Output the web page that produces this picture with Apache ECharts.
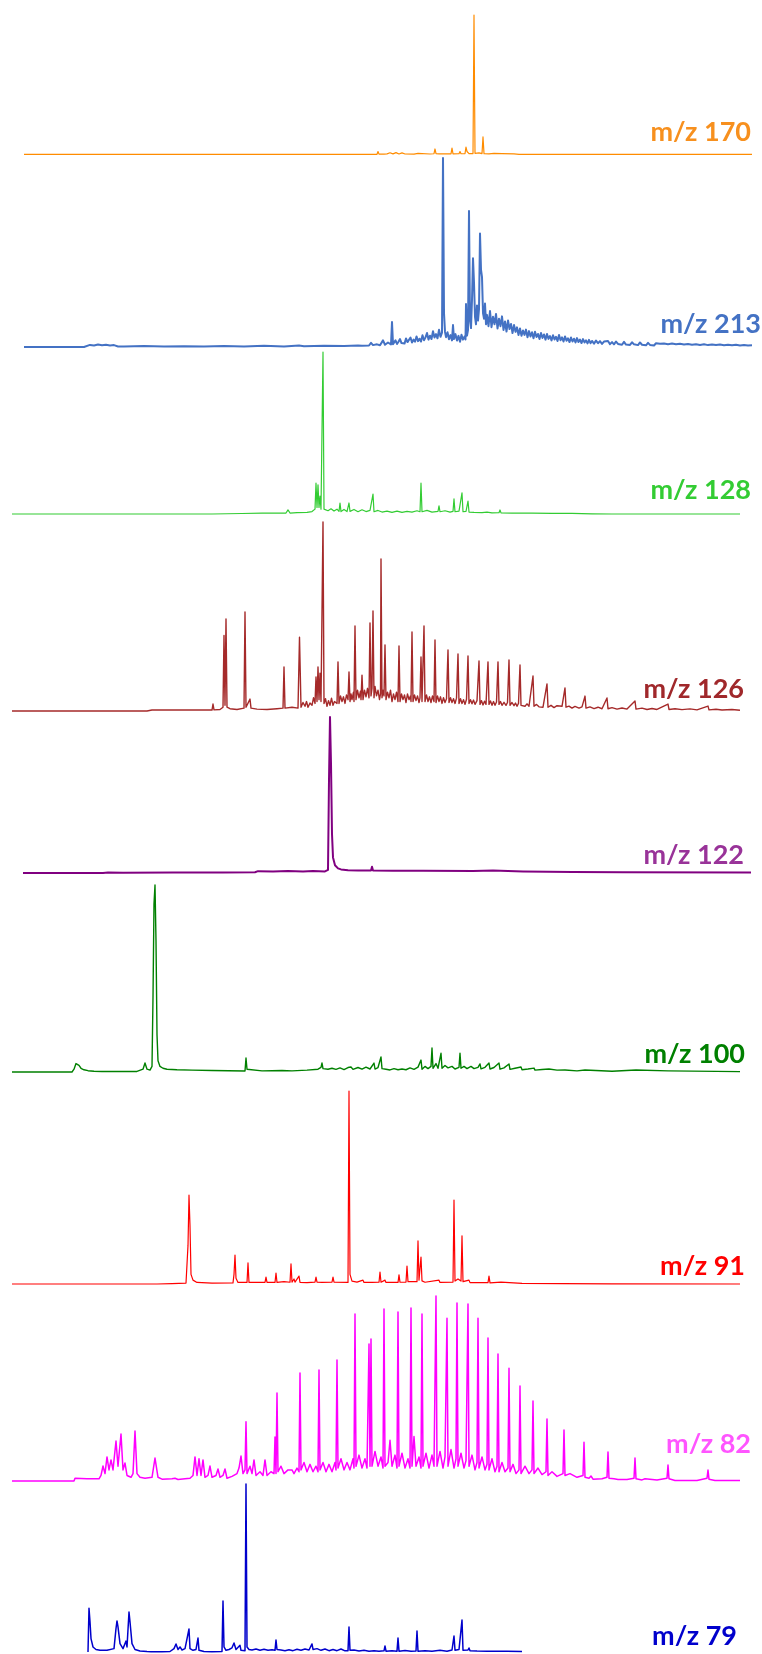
<!DOCTYPE html>
<html>
<head>
<meta charset="utf-8">
<script src="https://cdn.jsdelivr.net/npm/echarts@6/dist/echarts.min.js"></script>
<style>
  html, body { margin: 0; padding: 0; background: #ffffff; }
  #chart { width: 762px; height: 1654px; }
</style>
</head>
<body>
<div id="chart"></div>
<script>
// Retention time axis (min) and relative intensity (%) for each extracted ion chromatogram
const timeMax = 72.8;

const labels = ['m/z 170', 'm/z 213', 'm/z 128', 'm/z 126', 'm/z 122', 'm/z 100', 'm/z 91', 'm/z 82', 'm/z 79'];

const mz170 = [[0,0.4],[31.0,0.4],[31.1,0.4],[31.2,1.2],[31.3,0.4],[35.0,0.5],[35.3,0.5],[35.4,2.5],[35.5,0.6],[36.0,0.6],[36.1,1.8],[36.3,0.8],[36.6,1.6],[36.9,0.8],[37.2,1.7],[37.5,0.7],[37.8,1.5],[38.1,0.7],[39.0,0.6],[39.4,1.2],[39.6,0.6],[40.6,0.7],[40.7,2.1],[40.8,0.8],[41.0,0.9],[41.1,4.3],[41.2,0.9],[41.4,1.8],[41.5,0.8],[42.7,0.8],[42.8,5],[42.9,0.8],[43.5,0.9],[43.6,2.5],[43.7,0.9],[44.1,1.0],[44.2,5.7],[44.3,2.5],[44.4,3.6],[44.5,1.0],[44.9,1.0],[45.0,100],[45.1,1.2],[45.5,1.5],[45.7,1.0],[45.8,1.0],[45.9,12.9],[46.0,1.0],[46.5,0.8],[47.0,1.2],[47.2,0.6],[47.8,1.0],[48.0,0.6],[49.0,0.8],[49.5,0.5],[50,0.4],[72.8,0.4]];

const mz213 = [[0,0],[6,0],[6.2,0.6],[6.6,1.1],[7.0,0.8],[7.4,1.3],[7.8,0.9],[8.2,1.2],[8.6,0.8],[9.0,1.0],[9.4,0.3],[10,0.2],[12,0.5],[14,0.2],[16,0.4],[18,0.2],[20,0.5],[22,0.3],[24,0.6],[26,0.3],[27.5,0.8],[28,0.4],[30,0.6],[32,0.5],[33.4,0.8],[33.8,0.6],[34.5,0.8],[34.7,2.2],[34.9,1.0],[35.3,1.4],[35.6,0.9],[35.9,3.5],[36.1,1.2],[36.4,2.4],[36.7,1.3],[36.8,13.2],[36.9,1.5],
[37.0,2.0],[37.15,3.5],[37.3,1.6],[37.45,2.8],[37.6,4.2],[37.75,2.1],[37.9,3.0],[38.05,1.8],[38.2,4.5],[38.35,2.6],[38.5,3.3],[38.65,5.0],[38.8,2.4],[38.95,3.9],[39.1,2.8],[39.25,5.6],[39.4,3.1],[39.55,4.4],[39.7,2.9],[39.85,6.2],[40.0,3.6],[40.15,5.1],[40.3,7.4],[40.45,3.9],[40.6,6.0],[40.75,4.2],[40.9,8.3],[41.05,5.0],[41.2,6.8],[41.35,4.6],[41.5,9.1],[41.65,5.4],[41.8,7.6],
[41.9,100],[42.0,18],[42.1,8],[42.2,5.2],[42.35,7.8],[42.5,4.1],[42.65,6.3],[42.8,3.5],[42.9,11.6],[43.0,4.2],[43.15,6.8],[43.3,3.4],[43.45,5.9],[43.6,2.8],[43.75,6.5],[43.9,3.9],[44.05,5.5],[44.15,4.0],[44.2,22.8],[44.3,6],[44.4,9],[44.5,72],[44.6,14],[44.7,10],[44.8,25],[44.9,47],[45.0,34],[45.1,16],[45.2,12],[45.3,22],[45.4,14],[45.5,20],[45.6,60],[45.7,41],[45.8,37],[45.9,18],[46.0,15],[46.1,23],[46.2,12],[46.3,17],[46.45,11],[46.6,19],[46.75,10.5],[46.9,16],[47.05,12],[47.2,17.5],[47.35,9.8],[47.5,15],[47.65,11],[47.8,16.2],[47.95,9],[48.1,13.5],[48.25,8.2],[48.4,14],[48.55,9.5],[48.7,12.2],[48.85,7.4],[49.0,11.6],[49.15,8.0],[49.3,10.4],[49.45,6.3],[49.6,9.8],[49.75,5.9],[49.9,8.7],[50.05,6.4],[50.2,9.2],[50.35,5.1],[50.5,8.4],[50.65,5.6],[50.8,7.8],[50.95,4.6],[51.1,8.1],[51.25,5.3],[51.4,6.9],[51.55,4.2],[51.7,7.4],[51.85,4.8],[52.0,6.6],[52.15,3.9],[52.3,6.9],[52.45,4.3],[52.6,5.8],[52.75,3.5],[52.9,6.2],[53.05,4.0],[53.2,5.4],[53.35,3.2],[53.5,6.4],[53.65,3.6],[53.8,5.1],[53.95,2.9],[54.1,5.6],[54.25,3.3],[54.4,4.6],[54.55,2.6],[54.7,5.0],[54.85,2.9],[55.0,4.4],[55.15,2.4],[55.3,4.7],[55.45,2.6],[55.6,3.9],[55.75,2.1],[55.9,4.2],[56.05,2.4],[56.2,3.5],[56.35,1.9],[56.5,3.8],[56.65,2.0],[56.8,3.2],
[57.0,1.8],[57.2,3.4],[57.4,2.0],[57.6,3.1],[57.8,1.6],[58.0,2.9],[58.2,1.9],[58.4,3.2],[58.6,1.5],[58.8,2.6],[59.0,1.4],[59.2,2.9],[59.4,1.6],[59.6,2.4],[59.8,1.2],[60.0,2.7],[60.2,1.3],[60.4,2.2],[60.6,1.1],[60.8,2.5],[61.0,1.4],[61.2,2.0],[61.4,1.0],[61.6,2.4],[61.8,1.2],[62.0,1.9],[62.2,0.9],[62.4,2.2],[62.6,1.1],[62.8,1.8],[63.0,0.8],[63.2,2.0],[63.4,1.0],[63.6,1.7],[63.8,0.8],[64.0,1.9],[64.2,0.9],[64.4,1.5],[64.6,0.7],[64.8,1.8],[65.0,0.9],[65.2,1.4],[65.4,0.6],[65.6,1.7],[65.8,0.8],[66.0,1.3],[66.2,0.6],[66.4,1.6],[66.6,0.7],[66.8,1.2],[67.0,0.5],[67.2,1.5],[67.4,0.7],[67.6,1.1],[67.8,0.5],[68.0,1.4],[68.2,0.6],[68.4,1.0],[68.6,0.4],[68.8,1.3],[69.0,0.6],[69.2,1.0],[69.4,0.4],[69.6,1.3],[69.8,0.5],[70.0,0.9],[70.2,0.4],[70.4,1.2],[70.6,0.5],[70.8,0.9],[71.0,0.3],[71.2,1.2],[71.4,0.5],[71.6,0.8],[71.8,0.3],[72.0,1.1],[72.2,0.4],[72.4,0.8],[72.6,0.3],[72.8,0.9]];

const mz128 = [[0,0],[20,0],[23,0.3],[25,0.5],[27.4,0.6],[27.6,2.5],[27.8,0.6],[28.5,0.8],[29.5,1.0],[30.0,1.5],[30.3,3],[30.4,19],[30.5,4],[30.6,18],[30.7,4],[30.8,11],[30.9,3],[31.0,2.5],[31.1,100],[31.2,3],[31.4,4],[31.6,2],[31.9,3.2],[32.2,1.8],[32.5,3],[32.7,1.6],[32.8,6.8],[32.9,1.5],[33.2,2.8],[33.5,1.5],[33.7,6.8],[33.8,1.6],[34.2,2.8],[34.6,1.4],[35.0,2.6],[35.4,1.5],[35.8,2.2],[36.0,1.4],[36.1,12.3],[36.2,1.4],[36.6,2.2],[37,1.2],[37.5,1.8],[38,1.0],[38.5,1.8],[39,1.0],[39.5,1.6],[40,1.2],[40.5,2.0],[40.8,1.4],[40.9,19],[41.0,1.4],[41.5,2.2],[42,1.2],[42.6,1.6],[42.7,5],[42.8,1.4],[43.3,2],[43.8,1.2],[44.1,1.6],[44.2,9.3],[44.3,1.4],[44.7,1.8],[44.9,1.4],[45.0,13],[45.1,1.4],[45.4,1.6],[45.6,8],[45.7,1.2],[46.2,1.0],[47,0.8],[47.5,1.2],[48,0.7],[48.7,0.8],[48.8,2.5],[48.9,0.7],[50,0.5],[52,0.6],[54,0.4],[56,0.4],[58,0.1],[60,0],[72.8,0]];

const mz126 = [[0,0],[13.5,0],[14,0.5],[20,0.5],[20.1,3.7],[20.2,0.6],[20.8,0.8],[21.1,2],[21.2,40],[21.3,3],[21.4,48.7],[21.5,2],[21.8,1.2],[22.5,0.8],[23.2,1.5],[23.3,52.4],[23.4,2],[23.6,3],[23.8,6.3],[23.9,1.5],[24.5,1.0],[25.5,0.8],[26.5,1.2],[27.1,1.5],[27.2,23.3],[27.3,1.5],[28.0,2.0],[28.6,1.5],[28.75,39],[28.9,2],[29.1,4.5],[29.3,2.5],[29.45,5],[29.6,2],[29.8,4.2],[30.0,3],[30.15,7],[30.3,4],[30.4,18],[30.5,5],[30.6,23.3],[30.7,6],[30.8,20],[30.9,5],[31.0,4],[31.1,100],[31.2,4],[31.35,6.5],[31.5,2.5],[31.65,5.5],[31.8,3],[31.95,6.8],[32.1,3],[32.25,5],[32.4,6],[32.5,4],[32.6,26],[32.7,4],[32.85,8],[33.0,5],[33.15,7.5],[33.3,4],[33.45,8.5],[33.6,6],[33.7,20.6],[33.8,5],[33.9,9],[34.0,6],[34.15,10],[34.2,5],[34.3,45],[34.4,6],[34.55,11],[34.7,7],[34.85,10.5],[34.9,6],[35.0,19],[35.1,6],[35.25,11],[35.4,7.5],[35.55,12],[35.7,7],[35.8,46.6],[35.9,8],[36.0,12],[36.1,52.9],[36.2,7],[36.3,13],[36.45,8],[36.6,11],[36.75,6],[36.85,9],[36.9,80.4],[37.0,7],[37.1,11],[37.2,8],[37.3,35],[37.4,6],[37.55,10],[37.7,7],[37.85,11],[38.0,5],[38.15,9],[38.3,6],[38.45,10],[38.6,5],[38.7,34.4],[38.8,5],[38.95,9],[39.1,6],[39.25,8.5],[39.4,4.5],[39.55,9],[39.7,6],[39.85,8],[39.9,5],[40.0,41.8],[40.1,5],[40.25,8.5],[40.4,5.5],[40.55,8],[40.7,4.5],[40.8,7],[40.9,28.6],[41.0,5],[41.1,6],[41.2,45],[41.3,5],[41.45,8.5],[41.6,5],[41.75,7.5],[41.9,4.5],[42.05,8],[42.2,5],[42.3,37.6],[42.4,4.5],[42.55,8],[42.7,5],[42.85,7.5],[43.0,4],[43.15,7],[43.3,4.5],[43.45,6.5],[43.6,32.3],[43.7,4.5],[43.85,7],[44.0,4.5],[44.15,6.5],[44.3,4],[44.45,6.8],[44.6,30.2],[44.7,4],[44.85,6.5],[45.0,4],[45.15,6],[45.3,3.5],[45.45,6.2],[45.6,29.1],[45.7,4],[45.85,6],[46.0,3.8],[46.15,5.8],[46.3,3.5],[46.5,5.5],[46.7,26.5],[46.8,3.5],[46.95,5.5],[47.1,3.2],[47.25,5.2],[47.4,3.5],[47.6,26],[47.7,3.5],[47.85,5.3],[48.0,3],[48.15,5],[48.3,3],[48.45,4.8],[48.6,26],[48.7,3.5],[48.85,5],[49.0,3],[49.2,4.6],[49.4,3],[49.55,4.5],[49.7,27],[49.8,3],[50.0,4.5],[50.2,2.8],[50.35,4.2],[50.5,2.5],[50.65,4],[50.8,24.3],[50.9,3],[51.1,4],[51.3,2.5],[51.5,3.8],[51.7,2.5],[51.9,3.4],[52.1,18.5],[52.2,2.5],[52.45,3.5],[52.7,2.2],[52.9,3.2],[53.1,2],[53.3,3],[53.5,14.3],[53.6,2],[53.9,3],[54.2,1.8],[54.5,2.8],[54.7,1.8],[55.0,2.5],[55.3,12.2],[55.4,2],[55.7,2.6],[56,1.5],[56.3,2.4],[56.7,1.5],[57.0,2.2],[57.3,7.9],[57.4,1.5],[57.8,2.2],[58.2,1.3],[58.6,2],[59.0,1.2],[59.5,6.9],[59.6,1.2],[60.0,1.8],[60.5,1.0],[61.0,1.6],[61.5,1.0],[62.3,5.3],[62.4,1.0],[63.0,1.5],[63.5,0.8],[64.0,1.3],[64.5,0.8],[65.6,3.7],[65.7,0.8],[66.3,1.2],[67,0.7],[67.8,1.1],[68.5,0.6],[69.6,2.6],[69.7,0.6],[70.4,0.9],[71,0.5],[72.0,0.8],[72.8,0.4]];

const mz122 = [[0,0],[8,0],[8.2,0.8],[8.5,0.3],[10,0.2],[15,0.4],[20,0.3],[23.2,0.5],[23.5,1.2],[25,1.0],[26.5,1.3],[28,1.0],[29,1.3],[30.2,1.0],[30.4,1.5],[30.5,2],[30.6,60],[30.7,100],[30.8,70],[30.9,25],[31.0,10],[31.2,5],[31.5,3],[31.8,2.3],[32.5,1.8],[33.5,1.6],[34.8,1.6],[34.9,4],[35.0,1.6],[37,1.4],[40,1.4],[45,1.3],[47,1.6],[50,1.0],[55,0.6],[60,0.5],[72.8,0.4]];

const mz100 = [[0,0],[6.0,0],[6.2,1.5],[6.4,4.5],[6.5,5.3],[6.7,3.5],[6.9,2],[7.2,1.2],[7.6,0.7],[8.2,0.4],[9,0.3],[10.7,0.3],[10.8,0.8],[10.9,0.3],[12.5,0.3],[13.1,1.5],[13.3,4.8],[13.5,1.5],[13.8,1.0],[14.0,3],[14.1,40],[14.2,90],[14.3,100],[14.4,70],[14.5,20],[14.6,6],[14.8,3],[15.1,2],[15.5,1.5],[16.5,1.2],[18,1.0],[20,0.8],[23.3,0.5],[23.4,7.5],[23.5,1.5],[23.7,0.8],[25,0.6],[27,0.8],[28,0.6],[29.5,1.0],[30.6,1.5],[30.9,2.5],[31.0,4.8],[31.1,1.8],[31.6,1.5],[32.0,2.0],[32.4,1.4],[32.8,2.2],[33.2,1.3],[33.6,2.4],[33.9,2.7],[34.1,1.4],[34.6,2.4],[35.0,1.5],[35.4,2.6],[35.8,1.6],[36.2,4.8],[36.3,1.6],[36.6,2.4],[36.9,8],[37.0,1.8],[37.4,1.5],[37.8,1.1],[38.2,1.8],[38.6,1.2],[39.0,1.6],[39.4,1.2],[39.8,2.2],[40.2,1.4],[40.6,2.6],[40.9,6.4],[41.0,1.5],[41.3,3.0],[41.6,1.8],[41.9,3],[42.0,12.8],[42.1,2],[42.4,4.5],[42.6,2],[42.9,10],[43.0,2],[43.3,3.5],[43.6,2.2],[44.0,3],[44.3,1.6],[44.7,2.5],[44.8,10],[44.9,2],[45.2,3],[45.5,1.8],[45.9,3],[46.2,1.8],[46.6,2.5],[46.8,4.3],[46.9,1.7],[47.3,2.5],[47.7,4.8],[47.8,1.6],[48.2,2.4],[48.7,4.8],[48.8,1.5],[49.2,2.2],[49.7,4.3],[49.8,1.4],[50.3,2],[50.9,2.7],[51.0,1.2],[51.6,1.6],[52.2,2.1],[52.3,1.0],[53.0,1.3],[53.7,1.6],[53.8,0.8],[54.5,1.0],[55.3,1.1],[55.4,0.6],[56.5,0.6],[57.3,1.1],[57.4,0.5],[60,0.4],[62.4,1.1],[62.5,0.3],[65.6,0.6],[65.7,0.2],[72.8,0.2]];

const mz91 = [[0,0],[14.5,0],[16,0.2],[17.4,0.5],[17.6,20],[17.7,46],[17.8,30],[17.9,5],[18.1,2],[18.5,0.8],[20,0.5],[22.1,0.6],[22.2,5],[22.3,15],[22.4,3],[22.5,3.6],[22.6,0.8],[23.5,0.8],[23.6,10.9],[23.7,0.8],[25.3,0.8],[25.4,3.6],[25.5,0.8],[26.3,0.8],[26.4,5.7],[26.5,0.8],[27.2,1.2],[27.8,0.9],[27.9,10.4],[28.0,1.0],[28.2,2.6],[28.3,1.0],[28.7,4.1],[28.8,0.8],[29.5,0.7],[30.3,1.0],[30.4,3.6],[30.5,1.0],[31,0.8],[32.0,1.0],[32.1,3.6],[32.2,1.0],[33.6,0.8],[33.7,100],[33.8,5],[34,1.5],[34.5,1.0],[35.1,2],[35.2,0.8],[36.0,0.8],[36.7,0.9],[36.8,6.2],[36.9,0.9],[37.3,2],[37.4,0.8],[38.6,0.8],[38.7,4.7],[38.8,0.9],[39.4,1.0],[39.5,9.3],[39.6,1.2],[40.5,1.2],[40.6,22.3],[40.7,2],[40.8,2],[40.9,14],[41.0,1.6],[41.2,2.6],[41.3,0.9],[42.7,2],[42.8,0.8],[44.1,1.0],[44.2,43.5],[44.3,1.5],[44.6,2.6],[44.9,1.5],[45.0,25],[45.1,1.2],[45.7,2],[45.8,0.7],[47.6,0.7],[47.7,4.1],[47.8,0.6],[48.9,1],[49.0,0.4],[51,0.3],[55,0.2],[60,0.1],[72.8,0]];

const mz82 = [[0,0],[6.2,0],[6.3,1.5],[7.5,1.2],[8.7,1.2],[8.9,3],[9.1,8.1],[9.3,4],[9.5,13],[9.7,6],[9.9,11.4],[10.1,6],[10.4,21.6],[10.6,8],[10.9,25.4],[11.1,6],[11.3,9.7],[11.5,3],[11.7,3.5],[11.9,2],[12.1,4],[12.3,27],[12.5,4],[12.8,2],[13.3,1.5],[14.0,2],[14.3,12.4],[14.6,2],[15,1],[16,1.2],[16.3,1.5],[16.6,0.8],[17.3,1.2],[17.8,1.5],[18.1,3],[18.3,13],[18.5,3],[18.7,12],[18.9,3],[19.1,11.4],[19.3,2],[19.6,3],[19.8,8.1],[20.0,2],[20.4,3],[20.6,6.5],[20.8,2],[21.1,3],[21.3,6.5],[21.5,1.5],[22.0,2.5],[22.5,4],[22.7,7],[22.9,13.5],[23.1,4],[23.3,6],[23.4,32],[23.5,4],[23.8,8],[24.0,4],[24.2,11.4],[24.4,3],[24.8,5],[25.1,3],[25.3,11.4],[25.5,3],[25.9,5],[26.2,4],[26.3,23.8],[26.4,4],[26.5,47.6],[26.6,5],[26.9,8],[27.2,4],[27.6,6],[28.0,6],[28.2,4],[28.5,7],[28.7,5],[28.8,58.4],[28.9,6],[29.2,10],[29.5,5],[29.8,9],[30.1,5],[30.4,8],[30.6,5],[30.7,60],[30.8,6],[31.1,10],[31.4,5],[31.7,9],[32.0,5],[32.3,10],[32.4,6],[32.5,65.4],[32.6,7],[32.9,12],[33.2,6],[33.5,10],[33.8,6],[34.1,12],[34.2,7],[34.3,90.3],[34.4,8],[34.7,14],[35.0,7],[35.3,12],[35.5,7],[35.7,74],[35.8,8],[35.9,76.8],[36.0,8],[36.3,16],[36.6,8],[36.9,13],[37.1,7],[37.2,93],[37.3,8],[37.6,10],[37.8,22],[38.0,8],[38.3,14],[38.5,7],[38.6,91.4],[38.7,8],[39.0,15],[39.3,7],[39.6,12],[39.8,7],[39.9,93.5],[40.0,8],[40.2,24],[40.4,8],[40.7,13],[40.9,7],[41.0,90.3],[41.1,8],[41.4,15],[41.7,7],[42.0,14],[42.2,8],[42.4,100],[42.5,8],[42.8,16],[43.1,7],[43.3,13],[43.5,88],[43.6,8],[43.9,17],[44.2,7],[44.4,12],[44.5,96.2],[44.6,8],[44.9,15],[45.2,7],[45.4,11],[45.6,95.7],[45.7,8],[46.0,14],[46.3,6],[46.5,10],[46.6,88],[46.7,7],[47.0,13],[47.3,6],[47.5,9],[47.6,77.3],[47.7,6],[48.0,12],[48.3,5],[48.5,8],[48.6,68.6],[48.7,5],[49.0,10],[49.3,5],[49.6,7],[49.7,61],[49.8,5],[50.1,9],[50.4,4],[50.7,6],[50.8,51.4],[50.9,4],[51.3,8],[51.7,4],[52.0,6],[52.1,43.2],[52.2,4],[52.6,7],[53.0,3.5],[53.4,5],[53.5,33.5],[53.6,3],[54.0,5],[54.5,2.5],[55.1,4],[55.2,27.6],[55.3,3],[55.8,4],[56.5,2],[57.1,3],[57.2,21],[57.3,2],[57.7,1.5],[57.9,2.7],[58.1,1],[59,1.2],[59.5,2],[59.6,15.7],[59.7,1.5],[60.2,1.2],[60.4,2],[60.6,0.8],[61.5,0.8],[62.2,1.5],[62.3,12.4],[62.4,1.2],[63.0,0.6],[63.3,1.2],[63.5,0.5],[64.5,0.5],[65.5,1.5],[65.6,8.6],[65.7,1.2],[66.3,0.3],[68.5,0.3],[69.5,1.5],[69.6,5.9],[69.7,1.0],[70.3,0.3],[72.8,0.3]];

const mz79 = [[7.6,0],[7.7,26],[7.8,18],[7.9,8],[8.1,3],[8.4,1.5],[8.8,1],[9.5,1],[10.2,2],[10.4,14],[10.5,18.5],[10.6,15],[10.8,5],[11.1,2],[11.4,6.5],[11.5,3],[11.7,23.8],[11.8,18],[12.0,5],[12.3,1.5],[12.8,0.6],[13.5,0.3],[13.7,0.9],[13.9,0.2],[15,0.2],[15.8,0.3],[16.2,2],[16.4,4.8],[16.6,1.5],[16.8,3],[17.0,1.2],[17.3,2],[17.5,3],[17.7,13.7],[17.8,2],[18.1,1],[18.4,1.5],[18.6,8.3],[18.7,1],[19.2,0.3],[20,0.2],[21.0,0.3],[21.1,30.4],[21.2,3],[21.4,1],[21.7,1.5],[22.0,2.5],[22.2,5.4],[22.4,1.5],[22.6,2],[22.8,4],[22.9,1],[23.3,0.8],[23.4,100],[23.5,3],[23.7,1.5],[24.0,1.2],[24.4,1.8],[24.8,1],[25.2,1.6],[25.6,1],[26.0,1.4],[26.3,1],[26.4,7.1],[26.5,1.5],[26.9,1.2],[27.3,0.8],[27.7,1.4],[28.1,0.8],[28.5,1.6],[28.9,1],[29.3,1.8],[29.7,1.2],[29.9,1.5],[30.0,4.8],[30.1,1.5],[30.5,2],[30.9,1],[31.3,1.8],[31.7,0.8],[32.1,1.5],[32.5,0.8],[32.9,1.8],[33.3,0.7],[33.6,0.8],[33.7,14.9],[33.8,1],[34.2,1.2],[34.7,0.6],[35.2,1.0],[35.7,0.5],[36.2,0.8],[36.7,0.5],[37.2,0.7],[37.3,3.6],[37.4,0.5],[38.0,0.8],[38.5,0.5],[38.6,8.3],[38.7,0.5],[39.3,0.9],[39.9,0.4],[40.4,0.6],[40.5,12.5],[40.6,0.5],[41.3,0.8],[42,0.5],[42.8,1],[43.5,0.5],[44.0,1.2],[44.2,9.5],[44.3,1],[44.7,1.5],[44.9,1],[45.0,19],[45.1,1],[45.6,1.2],[45.7,2.4],[45.8,0.8],[46.5,0.6],[47.5,0.5],[48.5,0.5],[49.5,0.4],[51.0,0.3]];

const seriesData = [mz170, mz213, mz128, mz126, mz122, mz100, mz91, mz82, mz79];

// Layout and styles
const lineColors = ['#FF8C00', '#4472C4', '#33CC33', '#A52A2A', '#800080', '#008000', '#FF0000', '#FF00FF', '#0000CC'];
const textColors = ['#F7901E', '#4472C4', '#33CC33', '#A0282B', '#993399', '#008000', '#FF0000', '#FF55FF', '#0000CC'];
const lineWidths = [1.2, 2, 1.2, 1.4, 2, 1.4, 1.2, 1.5, 1.5];
const grids = [
  {left: 24, top: 15, height: 140},
  {left: 24, top: 158, height: 189},
  {left: 12, top: 352, height: 162},
  {left: 12, top: 522, height: 189},
  {left: 23, top: 717, height: 156},
  {left: 12, top: 885, height: 187},
  {left: 12, top: 1091, height: 193},
  {left: 12, top: 1296, height: 185},
  {left: 12, top: 1484, height: 168}
];
const labelPos = [[751,132],[761,324],[751,490],[744,689],[744,855],[745,1054],[745,1266],[751,1444],[737,1636]];

const chart = echarts.init(document.getElementById('chart'), null, {renderer: 'canvas'});
const option = {
  backgroundColor: '#ffffff',
  animation: false,
  grid: grids.map(g => ({left: g.left, top: g.top, width: 728, height: g.height, containLabel: false})),
  xAxis: grids.map((g, i) => ({type: 'value', gridIndex: i, min: 0, max: timeMax, show: false})),
  yAxis: grids.map((g, i) => ({type: 'value', gridIndex: i, min: 0, max: 100, show: false})),
  series: seriesData.map((d, i) => ({
    type: 'line', xAxisIndex: i, yAxisIndex: i, data: d,
    showSymbol: false, symbol: 'none', silent: true, clip: false,
    lineStyle: {color: lineColors[i], width: lineWidths[i], join: 'round'}
  })),
  graphic: labels.map((t, i) => ({
    type: 'text', x: labelPos[i][0], y: labelPos[i][1], silent: true,
    style: {
      text: t, fill: textColors[i], font: 'bold 27px Lato, "Open Sans", sans-serif',
      textAlign: 'right', textVerticalAlign: 'middle', align: 'right', verticalAlign: 'middle'
    }
  }))
};
chart.setOption(option);
</script>
</body>
</html>
